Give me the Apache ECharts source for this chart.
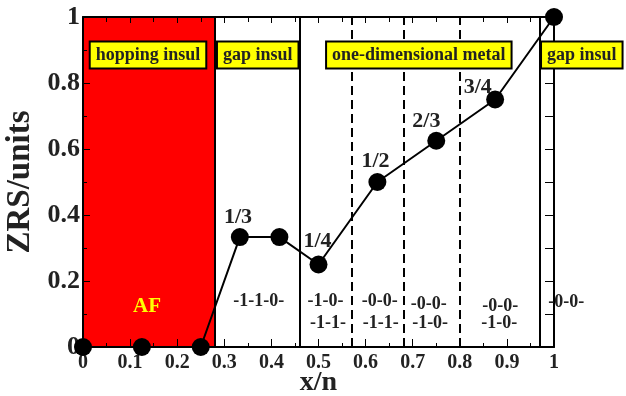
<!DOCTYPE html>
<html lang="en">
<head>
	<meta charset='utf-8'>
	<title>ZRS vs x/n</title>
	<script src="https://cdn.jsdelivr.net/npm/echarts@6/dist/echarts.min.js"></script>
	<style>
		body { margin: 0; background: #fff; }
		#container { width: 626px; height: 396px; }
	</style>
</head>
<body>
	<div id="container"></div>
	<script type="text/javascript">
		// data
		const xs = [0, 0.125, 0.25, 0.333, 0.417, 0.5, 0.625, 0.75, 0.875, 1];
		const zrs = [0, 0, 0, 0.333, 0.333, 0.25, 0.5, 0.625, 0.75, 1];

		const fracText = ['1/3', '1/4', '1/2', '2/3', '3/4'];
		const fracPos = [[0.329, 0.394], [0.498, 0.320], [0.621, 0.564], [0.729, 0.685], [0.838, 0.786]];

		const phaseText = ['hopping insul', 'gap insul', 'one-dimensional metal', 'gap insul'];
		const phaseX = [0.138, 0.371, 0.713, 1.059];
		const phaseY = 0.885;

		const configText = ['-1-1-0-', '-1-0-', '-1-1-', '-0-0-', '-1-1-', '-0-0-', '-1-0-', '-0-0-', '-1-0-', '-0-0-'];
		const configPos = [[0.373, 0.139], [0.515, 0.139], [0.520, 0.073], [0.630, 0.139], [0.632, 0.073],
			[0.734, 0.130], [0.737, 0.073], [0.886, 0.124], [0.884, 0.073], [1.026, 0.136]];

		const afRange = [0, 0.282];
		const afPos = [0.136, 0.124];
		const solidX = [0.282, 0.46, 0.968];
		const dashedX = [0.572, 0.681, 0.802];

		const FONT = '"Liberation Serif", "DejaVu Serif", serif';
		let dom = document.getElementById('container');
		let myChart = echarts.init(dom, null, { renderer: 'canvas' });

		function fmt(v) {
			return String(+v.toFixed(2));
		}

		let lineData = xs.map(function (x, i) { return [x, zrs[i]]; });

		let vlines = [];
		solidX.forEach(function (x) {
			vlines.push({ xAxis: x, lineStyle: { type: 'solid', width: 2, color: '#000' } });
		});
		dashedX.forEach(function (x) {
			vlines.push({ xAxis: x, lineStyle: { type: [9, 5], width: 2, color: '#000' } });
		});

		let axisCommon = {
			type: 'value',
			min: 0,
			max: 1,
			z: 10,
			splitLine: { show: false },
			axisLine: { show: true, onZero: false, lineStyle: { color: '#000', width: 2 } }
		};

		// invisible carrier points for text annotations
		let textItem = { color: 'rgba(0,0,0,0)', opacity: 1 };

		let option = {
			animation: false,
			backgroundColor: '#fff',
			grid: { left: 83, right: 72, top: 17, bottom: 49, outerBoundsMode: 'none', containLabel: false },
			xAxis: [
				Object.assign({}, axisCommon, {
					position: 'bottom',
					interval: 0.1,
					name: 'x/n',
					nameLocation: 'middle',
					nameGap: 22,
					nameMoveOverlap: false,
					nameTextStyle: { fontFamily: FONT, fontWeight: 'bold', fontSize: 28, color: '#222' },
					axisTick: { inside: true, length: 8, lineStyle: { color: '#000', width: 1 } },
					minorTick: { show: true, splitNumber: 2, length: 4, lineStyle: { color: '#000', width: 1 } },
					axisLabel: { margin: 6, fontFamily: FONT, fontWeight: 'bold', fontSize: 20, color: '#222', formatter: fmt }
				}),
				Object.assign({}, axisCommon, {
					position: 'top',
					interval: 0.1,
					axisTick: { inside: true, length: 6, lineStyle: { color: '#000', width: 1 } },
					minorTick: { show: true, splitNumber: 2, length: 5, lineStyle: { color: '#000', width: 1 } },
					axisLabel: { show: false }
				})
			],
			yAxis: [
				Object.assign({}, axisCommon, {
					position: 'left',
					interval: 0.2,
					name: 'ZRS/units',
					nameLocation: 'middle',
					nameGap: 44,
					nameTextStyle: { fontFamily: FONT, fontWeight: 'bold', fontSize: 33, color: '#222' },
					axisTick: { inside: true, length: 7, lineStyle: { color: '#000', width: 1 } },
					minorTick: { show: true, splitNumber: 2, length: 4, lineStyle: { color: '#000', width: 1 } },
					axisLabel: { margin: 3, fontFamily: FONT, fontWeight: 'bold', fontSize: 26, color: '#222', formatter: fmt }
				}),
				Object.assign({}, axisCommon, {
					position: 'right',
					interval: 0.1,
					axisTick: { inside: true, length: 9, lineStyle: { color: '#000', width: 1 } },
					axisLabel: { show: false }
				})
			],
			series: [
				{
					// AF region and phase boundaries
					type: 'line',
					z: 1,
					data: [],
					markArea: {
						silent: true,
						itemStyle: { color: '#ff0000', opacity: 1 },
						data: [[{ xAxis: afRange[0] }, { xAxis: afRange[1] }]]
					},
					markLine: {
						silent: true,
						symbol: ['none', 'none'],
						label: { show: false },
						data: vlines
					}
				},
				{
					name: 'ZRS',
					type: 'line',
					z: 20,
					data: lineData,
					symbol: 'circle',
					symbolSize: 18,
					lineStyle: { color: '#000', width: 2 },
					itemStyle: { color: '#000' }
				},
				{
					// filling labels
					type: 'scatter',
					z: 21,
					symbolSize: 1,
					itemStyle: textItem,
					data: fracPos.map(function (p, i) { return { value: p, name: fracText[i] }; }),
					label: {
						show: true, position: 'inside', formatter: '{b}',
						fontFamily: FONT, fontWeight: 'bold', fontSize: 22, color: '#222'
					}
				},
				{
					// configuration labels
					type: 'scatter',
					z: 21,
					symbolSize: 1,
					clip: false,
					itemStyle: textItem,
					data: configPos.map(function (p, i) { return { value: p, name: configText[i] }; }),
					label: {
						show: true, position: 'inside', formatter: '{b}',
						fontFamily: FONT, fontWeight: 'bold', fontSize: 18, color: '#222'
					}
				},
				{
					type: 'scatter',
					z: 21,
					symbolSize: 1,
					itemStyle: textItem,
					data: [{ value: afPos, name: 'AF' }],
					label: {
						show: true, position: 'inside', formatter: '{b}',
						fontFamily: FONT, fontWeight: 'bold', fontSize: 21, color: '#ffff00'
					}
				},
				{
					// phase boxes
					type: 'scatter',
					z: 30,
					symbolSize: 1,
					clip: false,
					itemStyle: textItem,
					data: phaseX.map(function (x, i) { return { value: [x, phaseY], name: phaseText[i] }; }),
					label: {
						show: true, position: 'inside', formatter: '{b}',
						fontFamily: FONT, fontWeight: 'bold', fontSize: 18, color: '#222',
						backgroundColor: '#ffff00', borderColor: '#000', borderWidth: 2,
						padding: [4, 5, 3, 5]
					}
				}
			]
		};

		myChart.setOption(option);
		window.addEventListener('resize', myChart.resize);
	</script>
</body>
</html>
